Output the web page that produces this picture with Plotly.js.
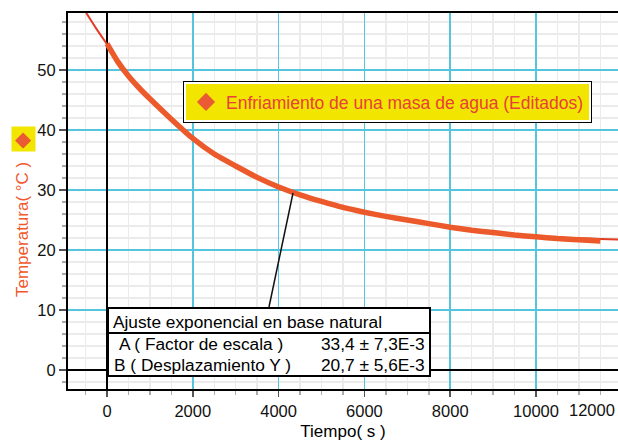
<!DOCTYPE html>
<html><head><meta charset="utf-8">
<script src="https://cdn.plot.ly/plotly-3.0.1.min.js"></script>
<style>html,body{margin:0;padding:0;overflow:hidden;background:#fff;width:618px;height:445px}</style>
</head><body><div id="chart" style="width:618px;height:445px"></div>
<script>
// ---- data ----
const seriesName = "Enfriamiento de una masa de agua (Editados)";
const timeData = [0, 250, 500, 750, 1000, 1500, 2000, 2500, 3000, 3500, 4000, 4500, 5000, 5500, 6000, 6500, 7000, 7500, 8000, 8500, 9000, 9500, 10000, 10500, 11000, 11500];
const tempData = [54.4, 51.4, 49.0, 47.0, 45.2, 41.8, 38.6, 36.0, 34.0, 32.1, 30.5, 29.2, 28.1, 27.1, 26.3, 25.6, 25.0, 24.4, 23.8, 23.3, 22.9, 22.5, 22.2, 21.9, 21.7, 21.5];
const timeFit = [-500, -250, 0, 500, 1000, 2000, 3000, 4000, 5000, 6000, 7000, 8000, 9000, 10000, 11000, 11500, 12000];
const tempFit = [59.7, 56.9, 54.3, 49.1, 45.2, 38.6, 34.0, 30.5, 28.1, 26.3, 25.0, 23.8, 22.9, 22.3, 21.95, 21.85, 21.75];
const xTickVals = [0, 2000, 4000, 6000, 8000, 10000];
const xTickText = ["0", "2000", "4000", "6000", "8000", "10000"];
const xEdgeLabel = "12000";
const fitTitle = "Ajuste exponencial en base natural";
const paramNames = ["A ( Factor de escala )", "B ( Desplazamiento Y )"];
const paramValues = ["33,4 ± 7,3E-3", "20,7 ± 5,6E-3"];
const xTitle = "Tiempo( s )";
const yTitle = "Temperatura( °C )";
const calloutTime = [4336, 3776];
const calloutTemp = [29.5, 10.5];

// ---- layout helpers (pixel -> paper) ----
const W = 618, H = 445;
const L = 68, B = 389, PW = W - L, PH = B - 13;
const px = x => (x - L) / PW;
const py = y => (B - y) / PH;
const FONT = "Liberation Sans, Arial, sans-serif";

const traces = [
  {x: timeFit, y: tempFit, mode: "lines", line: {color: "#e23d24", width: 2, shape: "spline", smoothing: 0.6}, showlegend: false, hoverinfo: "skip"},
  {x: timeData, y: tempData, mode: "lines", line: {color: "#ec5a2c", width: 5.5, shape: "spline", smoothing: 0.5}, showlegend: false},
  {x: [null], y: [null], mode: "markers", name: seriesName, marker: {symbol: "diamond", size: 14, color: "#ea5a34"}}
];

const gridMajor = "#55c5de", gridMinor = "#ebebeb";
const layout = {
  width: W, height: H,
  margin: {l: L, r: 0, t: 13, b: H - B},
  paper_bgcolor: "#fff", plot_bgcolor: "#fff",
  font: {family: FONT, color: "#111"},
  showlegend: true,
  xaxis: {
    range: [-909, 11911], autorange: false,
    tickmode: "array", tickvals: xTickVals, ticktext: xTickText,
    ticks: "outside", ticklen: 6, tickwidth: 1.5, tickcolor: "#555",
    tickfont: {size: 16.5, color: "#111"},
    showgrid: true, gridcolor: gridMajor, gridwidth: 1.5,
    zeroline: true, zerolinecolor: "#000", zerolinewidth: 2,
    showline: true, linecolor: "#000", linewidth: 2, mirror: true,
    minor: {tickmode: "linear", tick0: 0, dtick: 500, ticks: "outside", ticklen: 4, tickcolor: "#aaa", showgrid: true, gridcolor: gridMinor, gridwidth: 1.5},
    title: {text: xTitle, font: {size: 17, color: "#000"}, standoff: 6}
  },
  yaxis: {
    range: [-3.17, 59.5], autorange: false,
    tick0: 0, dtick: 10,
    ticks: "outside", ticklen: 7, tickwidth: 1.5, tickcolor: "#555",
    tickfont: {size: 16.5, color: "#111"},
    showgrid: true, gridcolor: gridMajor, gridwidth: 1.5,
    zeroline: true, zerolinecolor: "#000", zerolinewidth: 2,
    showline: true, linecolor: "#000", linewidth: 2, mirror: false,
    minor: {tickmode: "linear", tick0: 0, dtick: 2, ticks: "outside", ticklen: 4, tickcolor: "#aaa", showgrid: true, gridcolor: gridMinor, gridwidth: 1.5}
  },
  legend: {
    x: px(184), y: py(82), xanchor: "left", yanchor: "top",
    bgcolor: "#f2e600", bordercolor: "#fff", borderwidth: 2,
    font: {size: 17.5, color: "#e8403a", family: FONT}
  },
  shapes: [
    {type: "rect", xref: "paper", yref: "paper", x0: px(108), x1: px(430), y0: py(376), y1: py(308), fillcolor: "#fff", line: {color: "#000", width: 2}, layer: "above"},
    {type: "line", xref: "paper", yref: "paper", x0: px(108), x1: px(430), y0: py(333), y1: py(333), line: {color: "#000", width: 2}, layer: "above"},
    {type: "line", xref: "x", yref: "y", x0: calloutTime[0], y0: calloutTemp[0], x1: calloutTime[1], y1: calloutTemp[1], line: {color: "#111", width: 1.5}, layer: "above"}
  ],
  annotations: [
    {xref: "paper", yref: "paper", x: 1, y: py(410), text: xEdgeLabel, showarrow: false, xanchor: "right", yanchor: "middle", xshift: -1, font: {size: 16.5, color: "#111"}},
    {xref: "paper", yref: "paper", x: px(22), y: py(230), text: yTitle, textangle: -90, showarrow: false, xanchor: "center", yanchor: "middle", font: {size: 17, color: "#f0582c", family: FONT}},
    {xref: "paper", yref: "paper", x: px(23.5), y: py(139), text: "◆", showarrow: false, xanchor: "center", yanchor: "middle", bgcolor: "#f2e600", width: 21, height: 22, borderpad: 1, font: {size: 21, color: "#ea5a34", family: "DejaVu Sans"}},
    {xref: "paper", yref: "paper", x: px(111), y: py(322), text: fitTitle, showarrow: false, xanchor: "left", yanchor: "middle", font: {size: 17.3, color: "#000"}},
    {xref: "paper", yref: "paper", x: px(117), y: py(343.5), text: paramNames[0], showarrow: false, xanchor: "left", yanchor: "middle", font: {size: 17.3, color: "#000"}},
    {xref: "paper", yref: "paper", x: px(112), y: py(365), text: paramNames[1], showarrow: false, xanchor: "left", yanchor: "middle", font: {size: 17.3, color: "#000"}},
    {xref: "paper", yref: "paper", x: px(427), y: py(343.5), text: paramValues[0], showarrow: false, xanchor: "right", yanchor: "middle", font: {size: 17.3, color: "#000"}},
    {xref: "paper", yref: "paper", x: px(427), y: py(365), text: paramValues[1], showarrow: false, xanchor: "right", yanchor: "middle", font: {size: 17.3, color: "#000"}}
  ]
};

const gd = document.getElementById("chart");
Plotly.newPlot(gd, traces, layout, {displayModeBar: false, staticPlot: true}).then(() => {
  // outer black frame around the legend (reference has black + white double border)
  const bg = gd.querySelector(".legend .bg");
  if (!bg) return;
  const r = bg.getBoundingClientRect(), d = gd.getBoundingClientRect();
  const x0 = r.left - d.left - 1, x1 = r.right - d.left + 1;
  const y0 = r.top - d.top - 1, y1 = r.bottom - d.top + 1;
  const shapes = layout.shapes.concat([{type: "rect", xref: "paper", yref: "paper", x0: px(x0), x1: px(x1), y0: py(y1), y1: py(y0), line: {color: "#000", width: 2}, fillcolor: "rgba(0,0,0,0)", layer: "above"}]);
  return Plotly.relayout(gd, {shapes: shapes});
});
</script></body></html>
